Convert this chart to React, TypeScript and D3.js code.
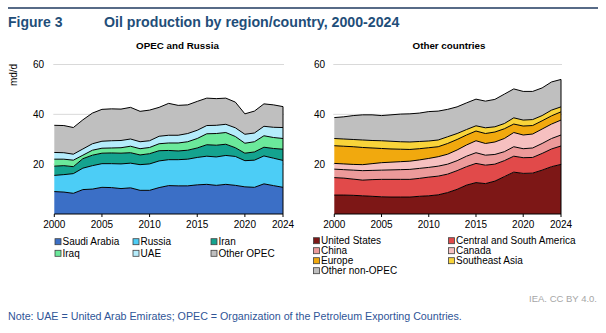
import React from "react";
import * as d3 from "d3";

const years = [2000, 2001, 2002, 2003, 2004, 2005, 2006, 2007, 2008, 2009, 2010, 2011, 2012, 2013, 2014, 2015, 2016, 2017, 2018, 2019, 2020, 2021, 2022, 2023, 2024];
const xTickYears = [2000, 2005, 2010, 2015, 2020, 2024];
const yTicks = [20, 40, 60];

// OPEC and Russia (mb/d)
const saudiArabia = [9.0, 8.8, 8.3, 9.8, 10.0, 10.7, 10.6, 10.2, 10.5, 9.5, 9.5, 10.6, 11.4, 11.3, 11.3, 11.7, 11.9, 11.5, 11.9, 11.5, 10.9, 10.7, 12.1, 11.4, 10.7];
const russia = [6.5, 7.0, 7.9, 8.6, 9.4, 9.5, 9.6, 9.9, 9.9, 10.3, 10.6, 10.7, 10.4, 10.5, 10.7, 11.0, 11.3, 11.4, 11.6, 11.6, 10.5, 10.9, 11.2, 11.0, 10.8];
const iran = [3.7, 3.6, 2.8, 3.8, 4.2, 4.2, 4.3, 4.3, 4.2, 3.9, 4.1, 4.1, 3.7, 3.5, 3.6, 3.8, 4.6, 4.7, 4.5, 3.5, 3.0, 3.3, 3.5, 3.9, 4.5];
const iraq = [2.8, 2.6, 2.6, 1.4, 2.0, 2.0, 2.0, 2.2, 2.6, 2.5, 2.5, 2.8, 3.0, 3.2, 3.4, 3.8, 4.4, 4.7, 4.7, 4.5, 4.0, 4.1, 4.6, 4.4, 4.3];
const uae = [2.7, 2.6, 2.4, 2.5, 2.6, 2.8, 2.9, 2.9, 2.9, 2.8, 2.7, 3.0, 3.1, 3.1, 3.3, 3.3, 3.3, 3.3, 3.3, 3.5, 3.6, 3.5, 3.8, 4.1, 4.4];
const otherOpec = [10.9, 10.9, 10.7, 11.7, 12.3, 12.8, 12.8, 12.6, 12.7, 12.2, 12.3, 11.6, 12.8, 12.0, 11.5, 11.6, 11.0, 10.7, 10.5, 10.3, 8.2, 8.8, 9.0, 9.0, 8.4];

// Other countries (mb/d)
const unitedStates = [7.6, 7.6, 7.5, 7.3, 7.1, 6.9, 6.8, 6.8, 6.8, 7.1, 7.3, 7.7, 8.6, 9.9, 11.6, 12.6, 12.2, 13.2, 15.0, 16.8, 16.3, 16.4, 17.6, 19.0, 19.9];
const centralSouthAmerica = [7.0, 6.8, 6.5, 6.3, 6.7, 7.0, 7.1, 7.1, 7.1, 7.2, 7.5, 7.5, 7.4, 7.5, 7.4, 7.7, 7.4, 6.8, 6.4, 6.4, 6.3, 6.3, 6.7, 7.1, 7.4];
const china = [3.4, 3.4, 3.6, 3.8, 3.7, 3.7, 3.8, 3.9, 4.0, 4.0, 3.9, 4.0, 4.0, 4.0, 4.2, 4.3, 4.0, 3.9, 3.6, 3.8, 3.6, 3.8, 4.0, 4.2, 4.4];
const canada = [2.3, 2.3, 2.3, 2.4, 2.7, 3.0, 3.1, 3.2, 3.3, 3.4, 3.6, 3.8, 4.0, 4.3, 4.5, 4.8, 4.7, 5.0, 5.3, 5.7, 5.5, 5.6, 5.8, 5.8, 6.0];
const europe = [7.1, 7.1, 7.1, 6.9, 6.3, 5.7, 5.3, 5.0, 4.7, 4.5, 4.3, 4.0, 4.3, 4.2, 4.0, 3.9, 4.0, 4.0, 3.9, 3.4, 3.6, 3.4, 3.3, 3.3, 3.3];
const southeastAsia = [2.9, 2.9, 2.9, 3.0, 3.0, 3.1, 3.1, 3.0, 3.0, 2.9, 2.7, 2.7, 2.7, 2.4, 2.2, 2.1, 2.3, 2.1, 2.1, 2.5, 2.4, 2.4, 2.1, 2.3, 2.0];
const otherNonOpec = [8.4, 8.9, 9.6, 10.1, 10.3, 10.1, 10.6, 11.1, 11.3, 11.4, 11.8, 11.6, 11.0, 10.7, 10.7, 10.7, 10.7, 11.0, 11.8, 11.6, 11.5, 11.3, 11.1, 11.3, 11.0];

type Series = { name: string; values: number[]; color: string };

const leftSeries: Series[] = [
  { name: "Saudi Arabia", values: saudiArabia, color: "#3b6fc6" },
  { name: "Russia", values: russia, color: "#4ccdf6" },
  { name: "Iran", values: iran, color: "#14a38f" },
  { name: "Iraq", values: iraq, color: "#6be99b" },
  { name: "UAE", values: uae, color: "#b5ecfb" },
  { name: "Other OPEC", values: otherOpec, color: "#bfbfbf" },
];

const rightSeries: Series[] = [
  { name: "United States", values: unitedStates, color: "#7d1716" },
  { name: "Central and South America", values: centralSouthAmerica, color: "#e14a4a" },
  { name: "China", values: china, color: "#ec9a9a" },
  { name: "Canada", values: canada, color: "#f6c0c0" },
  { name: "Europe", values: europe, color: "#f1a90e" },
  { name: "Southeast Asia", values: southeastAsia, color: "#f9d43a" },
  { name: "Other non-OPEC", values: otherNonOpec, color: "#bfbfbf" },
];

const FONT = "Liberation Sans, Arial, sans-serif";

function Panel({ series, x0, x1, titleX, title, yLabelX }: { series: Series[]; x0: number; x1: number; titleX: number; title: string; yLabelX: number }) {
  const x = d3.scaleLinear().domain([2000, 2024]).range([x0, x1]);
  const y = d3.scaleLinear().domain([0, 60]).range([214, 64.5]);
  const table = years.map((yr, i) => {
    const row: any = { year: yr };
    series.forEach((s) => (row[s.name] = s.values[i]));
    return row;
  });
  const stack = d3.stack<any>().keys(series.map((s) => s.name));
  const layers = stack(table);
  const area = d3
    .area<any>()
    .x((d) => x(d.data.year))
    .y0((d) => y(d[0]))
    .y1((d) => y(d[1]));
  const topLine = d3
    .line<any>()
    .x((d) => x(d.data.year))
    .y((d) => y(d[1]));
  const last = layers[layers.length - 1];
  const lastTop = last[last.length - 1][1];
  return (
    <g>
      <text x={titleX} y={49} textAnchor="middle" fontFamily={FONT} fontWeight="bold" fontSize={9.8} fill="#000">
        {title}
      </text>
      {yTicks.map((t) => (
        <line key={t} x1={x0 - 1} x2={x1 + 1} y1={y(t)} y2={y(t)} stroke="#d9d9d9" strokeWidth={1} />
      ))}
      {yTicks.map((t) => (
        <text key={"l" + t} x={yLabelX} y={y(t) + 3.5} textAnchor="end" fontFamily={FONT} fontSize={10} fill="#000">
          {t}
        </text>
      ))}
      {layers.map((l, i) => (
        <path key={i} d={area(l) || ""} fill={series[i].color} stroke="none" />
      ))}
      {layers.map((l, i) => (
        <path key={"t" + i} d={topLine(l) || ""} fill="none" stroke="#000" strokeWidth={1} strokeLinejoin="round" />
      ))}
      <line x1={x(2024)} x2={x(2024)} y1={y(0)} y2={y(lastTop)} stroke="#000" strokeWidth={1} />
      <line x1={x0} x2={x1} y1={y(0)} y2={y(0)} stroke="#000" strokeWidth={1} />
      {xTickYears.map((t) => (
        <g key={"x" + t}>
          <line x1={x(t)} x2={x(t)} y1={y(0)} y2={y(0) + 3} stroke="#000" strokeWidth={1} />
          <text x={x(t)} y={228} textAnchor="middle" fontFamily={FONT} fontSize={10} fill="#000">
            {t}
          </text>
        </g>
      ))}
    </g>
  );
}

function Legend({ series, cols, rowY }: { series: Series[]; cols: number[]; rowY: number[] }) {
  const nCols = cols.length;
  return (
    <g>
      {series.map((s, i) => {
        const c = i % nCols;
        const r = Math.floor(i / nCols);
        const lx = cols[c];
        const ly = rowY[r];
        return (
          <g key={s.name}>
            <rect x={lx} y={ly - 3} width={6} height={6} fill={s.color} stroke="#404040" strokeWidth={0.8} />
            <text x={lx + 7.5} y={ly + 3.6} fontFamily={FONT} fontSize={10} fill="#000">
              {s.name}
            </text>
          </g>
        );
      })}
    </g>
  );
}

export default function App() {
  return (
    <svg width={606} height={333} style={{ position: "absolute", left: 0, top: 0, background: "#fff" }}>
      <rect x={0} y={0} width={606} height={333} fill="#fff" />
      <line x1={8} x2={598} y1={8} y2={8} stroke="#1f3a5f" strokeWidth={1.5} />
      <text x={8} y={26.5} fontFamily={FONT} fontWeight="bold" fontSize={14} fill="#1f4e79">
        Figure 3
      </text>
      <text x={104} y={26.5} fontFamily={FONT} fontWeight="bold" fontSize={14.2} fill="#1f4e79">
        Oil production by region/country, 2000-2024
      </text>
      <text transform="translate(16.5,75) rotate(-90)" textAnchor="middle" fontFamily={FONT} fontSize={10} fill="#000">
        md/d
      </text>
      <Panel series={leftSeries} x0={54.3} x1={283} titleX={177.5} title="OPEC and Russia" yLabelX={44} />
      <Panel series={rightSeries} x0={334.3} x1={561} titleX={449} title="Other countries" yLabelX={325} />
      <Legend series={leftSeries} cols={[55, 133, 211]} rowY={[241.7, 253.3]} />
      <Legend series={rightSeries} cols={[313.5, 448.5]} rowY={[240.7, 250.7, 260.7, 270.7]} />
      <text x={597} y={302} textAnchor="end" fontFamily={FONT} fontSize={9.5} fill="#a6a6a6">
        IEA. CC BY 4.0.
      </text>
      <text x={8} y={320} fontFamily={FONT} fontSize={10.7} fill="#2f5597">
        Note: UAE = United Arab Emirates; OPEC = Organization of the Petroleum Exporting Countries.
      </text>
    </svg>
  );
}
